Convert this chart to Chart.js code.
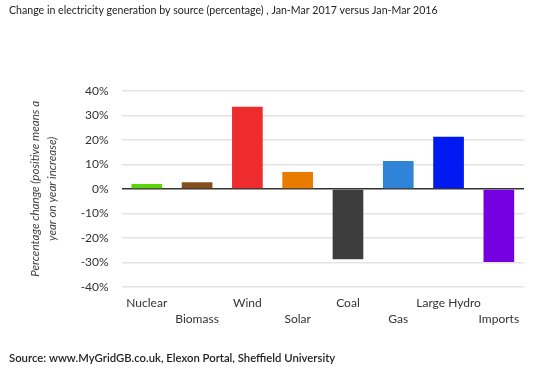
<!DOCTYPE html>
<html>
<head>
<meta charset="utf-8">
<script src="https://cdn.jsdelivr.net/npm/chart.js@4/dist/chart.umd.min.js"></script>
<style>
  html, body { margin: 0; padding: 0; background: #fff; }
  #wrap { width: 558px; height: 370px; position: relative; }
</style>
</head>
<body>
<div id="wrap"><canvas id="chart"></canvas></div>
<script>
// Data
const sources = ['Nuclear', 'Biomass', 'Wind', 'Solar', 'Coal', 'Gas', 'Large Hydro', 'Imports'];
const changePct = [2.0, 2.7, 33.5, 6.9, -28.7, 11.4, 21.2, -29.8];
const barColors = ['#5cd60a', '#844f1c', '#ee2b2d', '#e87b00', '#3d3d3d', '#2f84d8', '#0019f0', '#7400e0'];
const yTicks = [-40, -30, -20, -10, 0, 10, 20, 30, 40];

// Staggered category labels: even indexes on first line, odd on second
const staggered = sources.map((s, i) => (i % 2 === 0 ? [s, ''] : ['', s]));

const FONT = 'Lato, "Open Sans", sans-serif';

const ctx = document.getElementById('chart').getContext('2d');
new Chart(ctx, {
    type: 'bar',
    data: {
        labels: staggered,
        datasets: [{
            data: changePct,
            backgroundColor: barColors,
            borderWidth: 0,
            barPercentage: 0.61,
            categoryPercentage: 1
        }]
    },
    options: {
        responsive: true,
        maintainAspectRatio: false,
        animation: false,
        layout: { padding: { left: 9, right: 34, top: 0, bottom: 3 } },
        plugins: {
            legend: { display: false },
            tooltip: { enabled: false },
            title: {
                display: true,
                text: 'Change in electricity generation by source (percentage) , Jan-Mar 2017 versus Jan-Mar 2016',
                align: 'start',
                color: '#222',
                font: { family: FONT, size: 10.6, weight: 'normal' },
                padding: { top: 4, bottom: 74 }
            },
            subtitle: {
                display: true,
                position: 'bottom',
                text: 'Source: www.MyGridGB.co.uk, Elexon Portal, Sheffield University',
                align: 'start',
                color: '#222',
                font: { family: FONT, size: 11.3, weight: '600' },
                padding: { top: 16, bottom: 2 }
            }
        },
        scales: {
            x: {
                grid: { display: false, drawTicks: false },
                border: { display: false },
                ticks: {
                    color: '#333',
                    autoSkip: false,
                    maxRotation: 0,
                    padding: 8,
                    font: { family: FONT, size: 12, lineHeight: 1.35 }
                }
            },
            y: {
                min: yTicks[0],
                max: yTicks[yTicks.length - 1],
                afterBuildTicks: (axis) => { axis.ticks = yTicks.map(v => ({ value: v })); },
                grid: {
                    color: (c) => (c.tick && c.tick.value === 0 ? '#333' : '#e3e3e3'),
                    lineWidth: 1.5,
                    drawTicks: false
                },
                border: { display: false },
                ticks: {
                    color: '#333',
                    padding: 13,
                    font: { family: FONT, size: 12 },
                    callback: (value) => value + '%'
                },
                title: {
                    display: true,
                    text: ['Percentage change (positive means a', 'year on year increase)'],
                    color: '#444',
                    font: { family: FONT, size: 11.6, style: 'italic', lineHeight: 1.45 },
                    padding: { top: 18, bottom: 7 }
                }
            }
        }
    }
});
</script>
</body>
</html>
